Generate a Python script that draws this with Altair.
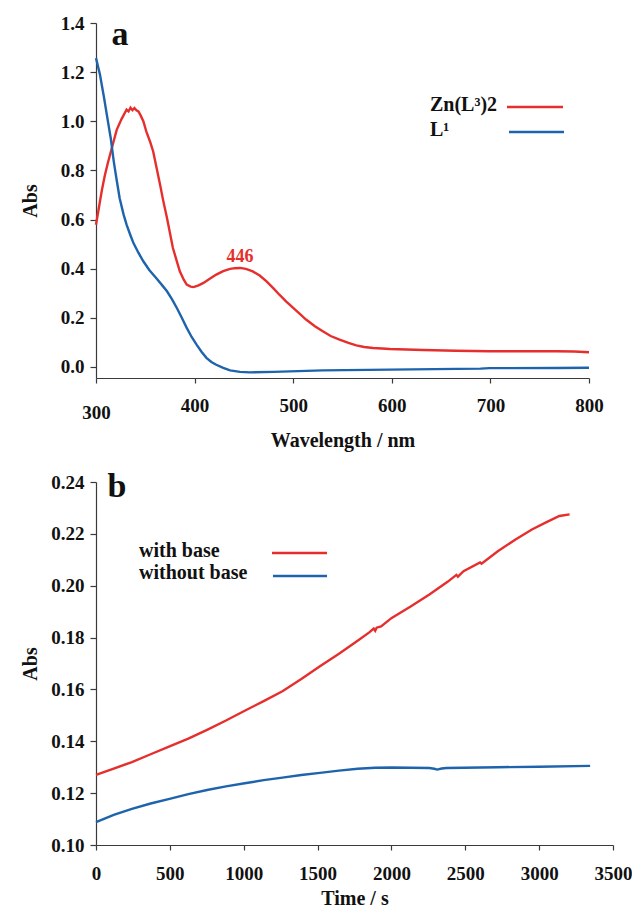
import altair as alt
import pandas as pd

# ---------------- data ----------------
# Panel a: absorption spectra
wl_zn = [300, 303, 306, 309, 312, 316, 321, 326, 331, 333, 335, 337, 339, 341, 343, 345,
         348, 351, 355, 358, 362, 365, 368, 372, 375, 378, 382, 385, 389, 392, 396, 399,
         404, 409, 415, 422, 429, 436, 441, 446, 452, 459, 466, 473, 480, 486, 493, 500,
         507, 513, 522, 530, 538, 547, 556, 564, 572, 581, 590, 598, 615, 632, 665, 699,
         733, 767, 785, 800]
abs_zn = [0.579, 0.65, 0.72, 0.78, 0.83, 0.89, 0.965, 1.01, 1.047, 1.04, 1.055, 1.045, 1.054, 1.045, 1.04, 1.026,
          1.0, 0.959, 0.915, 0.877, 0.8, 0.742, 0.68, 0.606, 0.545, 0.484, 0.43, 0.389, 0.355, 0.335, 0.327, 0.325,
          0.332, 0.342, 0.358, 0.376, 0.39, 0.399, 0.402, 0.403, 0.399, 0.389, 0.372, 0.348, 0.32, 0.294, 0.266, 0.24,
          0.215, 0.193, 0.166, 0.145, 0.126, 0.111, 0.098, 0.088, 0.081, 0.077, 0.075, 0.073, 0.071, 0.069, 0.066, 0.064,
          0.064, 0.064, 0.063, 0.06]

wl_l1 = [300, 304, 308, 311, 315, 318, 321, 324, 328, 331, 335, 338, 343, 348, 354, 361,
         367, 372, 377, 382, 387, 392, 397, 402, 407, 412, 417, 422, 429, 436, 446, 456,
         480, 530, 598, 666, 690, 699, 767, 800]
abs_l1 = [1.257, 1.19, 1.1, 1.026, 0.93, 0.837, 0.76, 0.687, 0.62, 0.579, 0.535, 0.504, 0.465, 0.43, 0.395, 0.362,
          0.333, 0.308, 0.276, 0.24, 0.2, 0.159, 0.122, 0.091, 0.062, 0.037, 0.02, 0.009, -0.004, -0.014, -0.02, -0.022,
          -0.02, -0.014, -0.011, -0.008, -0.007, -0.005, -0.004, -0.003]

# Panel b: kinetics
t_with = [0, 120, 243, 370, 498, 625, 752, 880, 1007, 1135, 1262, 1390, 1516, 1645, 1771, 1850,
          1880, 1890, 1900, 1930, 2002, 2130, 2257, 2380, 2440, 2450, 2488, 2600, 2610, 2720, 2840, 2951,
          3050, 3137, 3206]
abs_with = [0.127, 0.1295, 0.132, 0.135, 0.138, 0.141, 0.1444, 0.148, 0.1518, 0.1555, 0.1593, 0.164, 0.1689, 0.1738, 0.1788, 0.182,
            0.1835, 0.1826, 0.1838, 0.1843, 0.1876, 0.192, 0.1966, 0.2015, 0.2042, 0.2035, 0.2056, 0.209, 0.2085, 0.2133, 0.2178, 0.2217,
            0.2245, 0.2269, 0.2275]

t_without = [0, 120, 243, 370, 498, 625, 752, 880, 1007, 1135, 1262, 1390, 1516, 1645, 1771, 1890,
             2002, 2257, 2290, 2310, 2340, 2373, 2720, 3000, 3345]
abs_without = [0.1088, 0.1116, 0.1139, 0.116, 0.1178, 0.1196, 0.1212, 0.1226, 0.1238, 0.125, 0.126, 0.127, 0.1278, 0.1287, 0.1294, 0.1298,
               0.1299, 0.1297, 0.1294, 0.1291, 0.1295, 0.1297, 0.13, 0.1302, 0.1305]

series_a = ["Zn(L³)2", "L¹"]
series_b = ["with base", "without base"]
ticks_wl = [300, 400, 500, 600, 700, 800]
ticks_abs_a = [0.0, 0.2, 0.4, 0.6, 0.8, 1.0, 1.2, 1.4]
ticks_t = [0, 500, 1000, 1500, 2000, 2500, 3000, 3500]
ticks_abs_b = [0.10, 0.12, 0.14, 0.16, 0.18, 0.20, 0.22, 0.24]
peak_wl = [446]
peak_abs = [0.403]
peak_text = ["446"]

# ---------------- style ----------------
FONT = "Liberation Serif"
RED = "#e62f2d"
BLUE = "#1e64ac"
AX = "#3a3a3a"
TXT = "#111111"

df_a = pd.concat([
    pd.DataFrame({"wl": wl_zn, "abs": abs_zn, "series": series_a[0]}),
    pd.DataFrame({"wl": wl_l1, "abs": abs_l1, "series": series_a[1]}),
])
df_b = pd.concat([
    pd.DataFrame({"t": t_with, "abs": abs_with, "series": series_b[0]}),
    pd.DataFrame({"t": t_without, "abs": abs_without, "series": series_b[1]}),
])
df_peak = pd.DataFrame({"wl": peak_wl, "abs": peak_abs, "label": peak_text})
one = pd.DataFrame({"k": [0]})

WA, HA = 493, 355
WB, HB = 517, 363

lab = dict(labelFont=FONT, labelFontWeight="bold", labelFontSize=19, labelColor=TXT,
           titleFont=FONT, titleFontWeight="bold", titleFontSize=20, titleColor=TXT,
           domainColor=AX, tickColor=AX, domainWidth=1.2, tickWidth=1.2, grid=False)
common_y = dict(tickSize=6, labelPadding=6, minExtent=46, maxExtent=46, titlePadding=10, **lab)


def text_at(x, y, s, size=20, align="left"):
    return alt.Chart(one).mark_text(font=FONT, fontWeight="bold", fontSize=size, baseline="alphabetic",
                                    align=align, color=TXT).encode(
        x=alt.value(x), y=alt.value(y), text=alt.value(s))


def key_line(x1, x2, y, color):
    return alt.Chart(one).mark_rule(strokeWidth=2.4, color=color).encode(
        x=alt.value(x1), x2=alt.value(x2), y=alt.value(y))


# ---------------- panel a ----------------
xa = alt.X("wl:Q", scale=alt.Scale(domain=[300, 800], nice=False, zero=False),
           axis=alt.Axis(values=ticks_wl, title="Wavelength / nm", tickSize=5,
                         labelPadding=alt.condition("datum.value == 300", alt.value(20), alt.value(13)),
                         labelFlush=False, titlePadding=8, format="d", **lab))
ya = alt.Y("abs:Q", scale=alt.Scale(domain=[-0.045, 1.4], nice=False, zero=False),
           axis=alt.Axis(values=ticks_abs_a, format=".1f", title="Abs", **common_y))

lines_a = alt.Chart(df_a).mark_line(strokeWidth=2.4).encode(
    x=xa, y=ya,
    color=alt.Color("series:N", scale=alt.Scale(domain=series_a, range=[RED, BLUE]), legend=None),
    order=alt.Order("wl:Q"),
)
peak = alt.Chart(df_peak).mark_text(font=FONT, fontWeight="bold", fontSize=18, color=RED,
                                    baseline="alphabetic", dy=-6).encode(
    x="wl:Q", y="abs:Q", text="label:N")

panel_a = alt.layer(
    lines_a, peak,
    text_at(24, 22, "a", size=34, align="center"),
    text_at(334, 88, series_a[0]),
    text_at(334, 113, series_a[1]),
    key_line(411, 467, 84, RED),
    key_line(413, 468, 109, BLUE),
).properties(width=WA, height=HA)

# ---------------- panel b ----------------
xb = alt.X("t:Q", scale=alt.Scale(domain=[0, 3500], nice=False, zero=False),
           axis=alt.Axis(values=ticks_t, title="Time / s", tickSize=5, labelPadding=14,
                         labelFlush=False, titlePadding=5, format="d", **lab))
yb = alt.Y("abs:Q", scale=alt.Scale(domain=[0.10, 0.24], nice=False, zero=False),
           axis=alt.Axis(values=ticks_abs_b, format=".2f", title="Abs", **common_y))

lines_b = alt.Chart(df_b).mark_line(strokeWidth=2.4).encode(
    x=xb, y=yb,
    color=alt.Color("series:N", scale=alt.Scale(domain=series_b, range=[RED, BLUE]), legend=None),
    order=alt.Order("t:Q"),
)

panel_b = alt.layer(
    lines_b,
    text_at(21, 15, "b", size=34, align="center"),
    text_at(43, 75, series_b[0]),
    text_at(43, 97, series_b[1]),
    key_line(176, 231, 71, RED),
    key_line(177, 231, 94, BLUE),
).properties(width=WB, height=HB)

chart = alt.vconcat(panel_a, panel_b, spacing=20).properties(
    padding={"left": 12, "top": 6, "right": 0, "bottom": 0},
    background="white",
).configure_view(stroke=None)

chart.save("out.html", embed_options={"renderer": "svg", "actions": False})
